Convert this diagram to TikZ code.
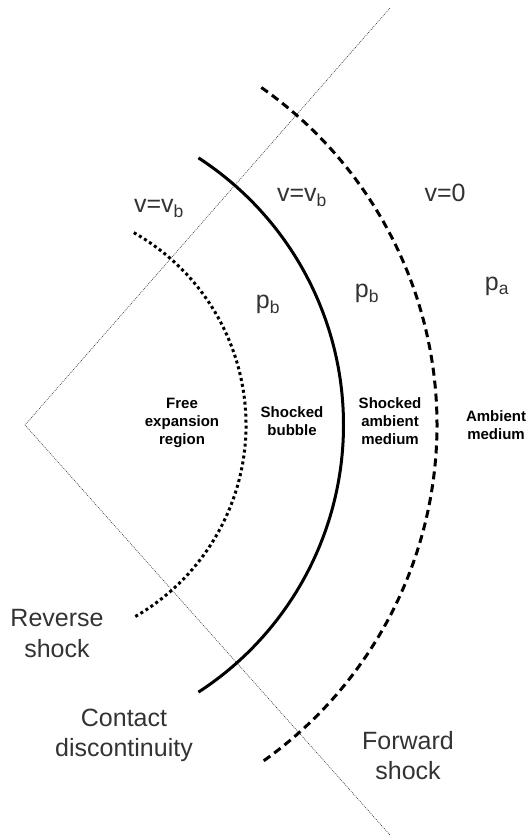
\documentclass[tikz,border=0pt]{standalone}
\usepackage{fontspec}
\setmainfont{Liberation Sans}
\usetikzlibrary{calc}
\begin{document}
\begin{tikzpicture}[x=1pt,y=1pt,
  lab/.style={anchor=base,inner sep=0pt,align=center,text=black!80,
    font=\fontsize{25}{30.5}\selectfont},
  reg/.style={anchor=base,inner sep=0pt,align=center,
    font=\fontsize{15}{18}\selectfont\bfseries},
  guide/.style={line width=0.5pt,dash pattern=on 1pt off 1pt,black!85},
  rshock/.style={line width=3pt,dash pattern=on 3pt off 3pt},
  contact/.style={line width=3pt},
  fshock/.style={line width=3pt,dash pattern=on 8pt off 5pt}]
\useasboundingbox (0,0) rectangle (527,837);
\coordinate (C) at (25,412);
\coordinate (top) at (390,829);
\coordinate (bot) at (390,2);
\draw[guide] (top) -- (C) -- (bot);
\draw[rshock] ($(C)+(60.5:221)$) arc[start angle=60.5,end angle=-60.5,radius=221];
\draw[contact] ($(C)+(57:318.5)$) arc[start angle=57,end angle=-57,radius=318.5];
\draw[fshock] ($(C)+(55:412)$) arc[start angle=55,end angle=-55,radius=412];
\node[lab] (v1) at (159,624) {v=v\textsubscript{b}};
\node[lab] (v2) at (302,635) {v=v\textsubscript{b}};
\node[lab] (v3) at (445,635) {v=0};
\node[lab] (p1) at (268,528) {p\textsubscript{b}};
\node[lab] (p2) at (367,539) {p\textsubscript{b}};
\node[lab] (p3) at (497,546) {p\textsubscript{a}};
\node[reg] (r1) at (182,392) {Free\\expansion\\region};
\node[reg] (r2) at (292,401) {Shocked\\bubble};
\node[reg] (r3) at (390,392) {Shocked\\ambient\\medium};
\node[reg] (r4) at (496,397) {Ambient\\medium};
\node[lab] (n1) at (57,179.5) {Reverse\\shock};
\node[lab] (n2) at (124,80) {Contact\\discontinuity};
\node[lab] (n3) at (408,57) {Forward\\shock};
\end{tikzpicture}
\end{document}
